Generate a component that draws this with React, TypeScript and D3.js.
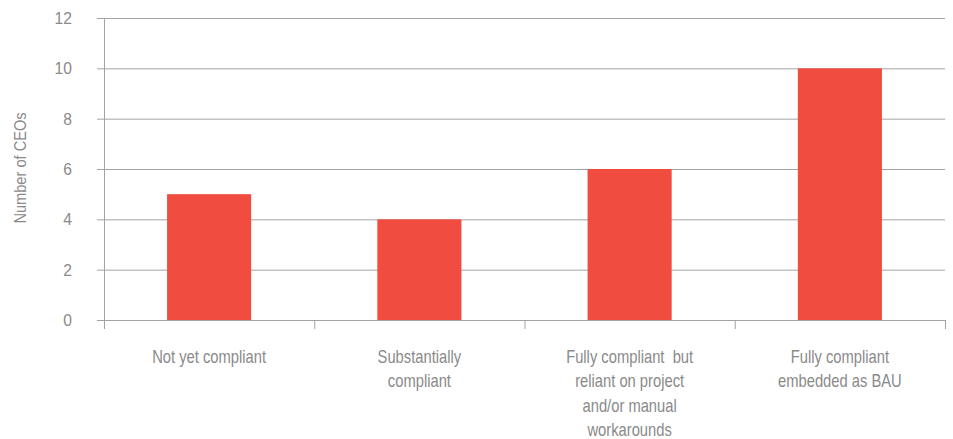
import React from "react";
import * as d3 from "d3";

// Survey results: number of CEOs by compliance status
const categories: string[][] = [
  ["Not yet compliant"],
  ["Substantially", "compliant"],
  ["Fully compliant  but", "reliant on project", "and/or manual", "workarounds"],
  ["Fully compliant", "embedded as BAU"],
];
const ceoCounts: number[] = [5, 4, 6, 10];
const yTicks: number[] = [0, 2, 4, 6, 8, 10, 12];
const yTitle = "Number of CEOs";

const W = 953;
const H = 439;
const margin = { left: 104, right: 8, top: 18, bottom: 119 };
const FONT = "'Liberation Sans', Arial, sans-serif";
const TEXT = "#8a8a8a";
const GRID = "#a3a3a3";
const BAR = "#f04c40";

export default function App() {
  const innerW = W - margin.left - margin.right;
  const innerH = H - margin.top - margin.bottom;
  const x = d3
    .scaleBand<number>()
    .domain(d3.range(categories.length))
    .range([margin.left, margin.left + innerW])
    .paddingInner(0.6)
    .paddingOuter(0.3);
  const xBand = d3
    .scaleBand<number>()
    .domain(d3.range(categories.length))
    .range([margin.left, margin.left + innerW]);
  const y = d3.scaleLinear().domain([0, 12]).range([margin.top + innerH, margin.top]);
  const x0 = margin.left;
  const x1 = margin.left + innerW;
  const yBase = y(0);

  return (
    <svg
      width={W}
      height={H}
      style={{ position: "absolute", left: 0, top: 0, background: "#fff" }}
      fontFamily={FONT}
    >
      {/* horizontal gridlines with left tick marks */}
      {yTicks.map((t) => (
        <g key={t}>
          <line x1={x0 - 7} x2={x1} y1={y(t) + 0.5} y2={y(t) + 0.5} stroke={GRID} strokeWidth={1} />
          <text
            transform={`translate(72, ${y(t)}) scale(0.92, 1)`}
            dy="0.36em"
            textAnchor="end"
            fontSize={17}
            fill={TEXT}
          >
            {t}
          </text>
        </g>
      ))}
      {/* y axis line */}
      <line x1={x0 + 0.5} x2={x0 + 0.5} y1={margin.top} y2={yBase + 9} stroke={GRID} strokeWidth={1} />
      {/* bars */}
      {ceoCounts.map((v, i) => (
        <rect key={i} x={x(i)} y={y(v)} width={x.bandwidth()} height={yBase - y(v)} fill={BAR} />
      ))}
      {/* x axis baseline and category ticks */}
      <line x1={x0 - 7} x2={x1} y1={yBase + 0.5} y2={yBase + 0.5} stroke={GRID} strokeWidth={1} />
      {d3.range(categories.length + 1).map((i) => {
        const px = i < categories.length ? (xBand(i) as number) : x1;
        return (
          <line key={i} x1={px + 0.5} x2={px + 0.5} y1={yBase} y2={yBase + 9} stroke={GRID} strokeWidth={1} />
        );
      })}
      {/* category labels, condensed horizontally */}
      {categories.map((lines, i) => {
        const cx = (xBand(i) as number) + xBand.bandwidth() / 2;
        return (
          <g key={i} transform={`translate(${cx}, 0) scale(0.82, 1)`}>
            <text textAnchor="middle" fontSize={18} fill={TEXT}>
              {lines.map((l, k) => (
                <tspan key={k} x={0} y={356.5 + k * 24.5} dy="0.35em" style={{ whiteSpace: "pre" }}>
                  {l}
                </tspan>
              ))}
            </text>
          </g>
        );
      })}
      {/* y axis title */}
      <text
        transform={`translate(20, ${(y(0) + y(12)) / 2 - 1}) rotate(-90) scale(0.86, 1)`}
        textAnchor="middle"
        dy="0.35em"
        fontSize={17}
        fill={TEXT}
      >
        {yTitle}
      </text>
    </svg>
  );
}
